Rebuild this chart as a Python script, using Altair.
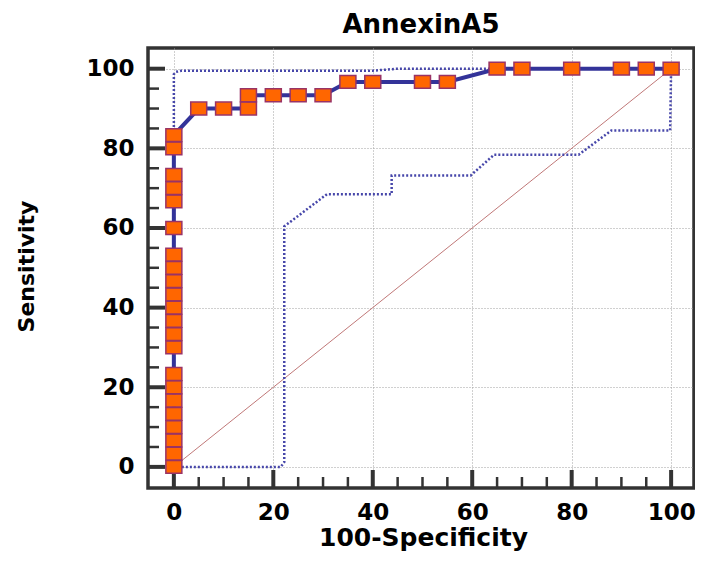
import altair as alt
import pandas as pd

# ROC curve points (100-Specificity, Sensitivity)
roc_fpr = [0, 0, 0, 0, 0, 0, 0, 0, 0, 0, 0, 0, 0, 0, 0, 0, 0, 0, 0, 0, 0, 0,
           5, 10, 15, 15, 20, 25, 30, 35, 40, 50, 55, 65, 70, 80, 90, 95, 100]
roc_sens = [0, 3.33, 6.67, 10, 13.33, 16.67, 20, 23.33, 30, 33.33, 36.67, 40,
            43.33, 46.67, 50, 53.33, 60, 66.67, 70, 73.33, 80, 83.33,
            90, 90, 90, 93.33, 93.33, 93.33, 93.33, 96.67, 96.67, 96.67, 96.67,
            100, 100, 100, 100, 100, 100]

# confidence bounds
upper_x = [0, 0, 0.4, 1.5, 40, 45, 100]
upper_y = [0, 98.6, 99.2, 99.5, 99.5, 100, 100]
lower_x = [0, 21.5, 22.2, 22.2, 30.8, 43.8, 43.8, 59.7, 64.4, 81.4, 88, 99.8, 100]
lower_y = [0, 0, 1.2, 60.4, 68.5, 68.5, 73.2, 73.2, 78.4, 78.4, 84.5, 84.5, 100]

# reference diagonal
diag_x = [0, 100]
diag_y = [0, 100]

# axis ticks
major_ticks = [0, 20, 40, 60, 80, 100]
minor_ticks = [5, 10, 15, 25, 30, 35, 45, 50, 55, 65, 70, 75, 85, 90, 95]

roc_df = pd.DataFrame({"x": roc_fpr, "y": roc_sens, "i": range(len(roc_fpr))})
up_df = pd.DataFrame({"x": upper_x, "y": upper_y, "i": range(len(upper_x))})
lo_df = pd.DataFrame({"x": lower_x, "y": lower_y, "i": range(len(lower_x))})
dg_df = pd.DataFrame({"x": diag_x, "y": diag_y, "i": range(len(diag_x))})
maj_df = pd.DataFrame({"x": major_ticks, "y": major_ticks})
min_df = pd.DataFrame({"x": minor_ticks, "y": minor_ticks})

W, H = 546, 440
FONT = "DejaVu Sans"
xscale = alt.Scale(domain=[-5.2, 104.6], nice=False, zero=False)
yscale = alt.Scale(domain=[-5.3, 105.2], nice=False, zero=False)

xaxis = alt.Axis(
    title="100-Specificity", values=major_ticks, grid=True, gridDash=[1, 2],
    gridColor="#a0a0a0", gridWidth=1, ticks=False, tickSize=0, domain=False,
    labelFont=FONT, labelFontSize=23, labelFontWeight="bold", labelColor="#000000",
    labelPadding=13, titleFont=FONT, titleFontSize=25, titleFontWeight="bold",
    titleColor="#000000", titleX=W / 2 + 2, titleY=57, titleBaseline="alphabetic",
    titleAlign="center", format="d",
)
yaxis = alt.Axis(
    title="Sensitivity", values=major_ticks, grid=True, gridDash=[1, 2],
    gridColor="#a0a0a0", gridWidth=1, ticks=False, tickSize=0, domain=False,
    labelFont=FONT, labelFontSize=23, labelFontWeight="bold", labelColor="#000000",
    labelPadding=14, titleFont=FONT, titleFontSize=22, titleFontWeight="bold",
    titleColor="#000000", titleX=-115, titleY=218, titleAngle=270,
    titleBaseline="alphabetic", titleAlign="center", format="d",
)


def X(f="x"):
    return alt.X(f"{f}:Q", scale=xscale, axis=xaxis)


def Y(f="y"):
    return alt.Y(f"{f}:Q", scale=yscale, axis=yaxis)


diag = alt.Chart(dg_df).mark_line(color="#C07878", strokeWidth=1).encode(
    x=X(), y=Y(), order="i:Q")
upper = alt.Chart(up_df).mark_line(color="#4747AA", strokeWidth=2.5, strokeDash=[2, 2]).encode(
    x=X(), y=Y(), order="i:Q")
lower = alt.Chart(lo_df).mark_line(color="#4747AA", strokeWidth=2.5, strokeDash=[2, 2]).encode(
    x=X(), y=Y(), order="i:Q")

xmaj = alt.Chart(maj_df).mark_rule(color="#333333", strokeWidth=4).encode(
    x=X(), y=alt.value(H), y2=alt.value(H - 18))
xmin = alt.Chart(min_df).mark_rule(color="#333333", strokeWidth=2.5).encode(
    x=X(), y=alt.value(H), y2=alt.value(H - 11))
ymaj = alt.Chart(maj_df).mark_rule(color="#333333", strokeWidth=4).encode(
    y=Y(), x=alt.value(0), x2=alt.value(17))
ymin = alt.Chart(min_df).mark_rule(color="#333333", strokeWidth=2.5).encode(
    y=Y(), x=alt.value(0), x2=alt.value(11))

roc_line = alt.Chart(roc_df).mark_line(color="#333399", strokeWidth=4).encode(
    x=X(), y=Y(), order="i:Q")
roc_pts = alt.Chart(roc_df).mark_point(
    shape="M-1,-0.8L1,-0.8L1,0.8L-1,0.8Z", size=256, filled=True,
    fill="#FF6600", stroke="#993366", strokeWidth=1.5, opacity=1,
).encode(x=X(), y=Y())

chart = alt.layer(
    diag, upper, lower, xmaj, xmin, ymaj, ymin, roc_line, roc_pts
).properties(
    width=W, height=H,
    background="white",
    title=alt.TitleParams("AnnexinA5", font=FONT, fontSize=26, fontWeight="bold",
                          color="#000000", anchor="middle", offset=10),
    autosize=alt.AutoSizeParams(type="none"),
    padding={"left": 140, "top": 40, "right": 1, "bottom": 70},
).configure_view(
    stroke="#333333", strokeWidth=3.5
)

chart.save("out.html", embed_options={"renderer": "svg", "actions": False})
